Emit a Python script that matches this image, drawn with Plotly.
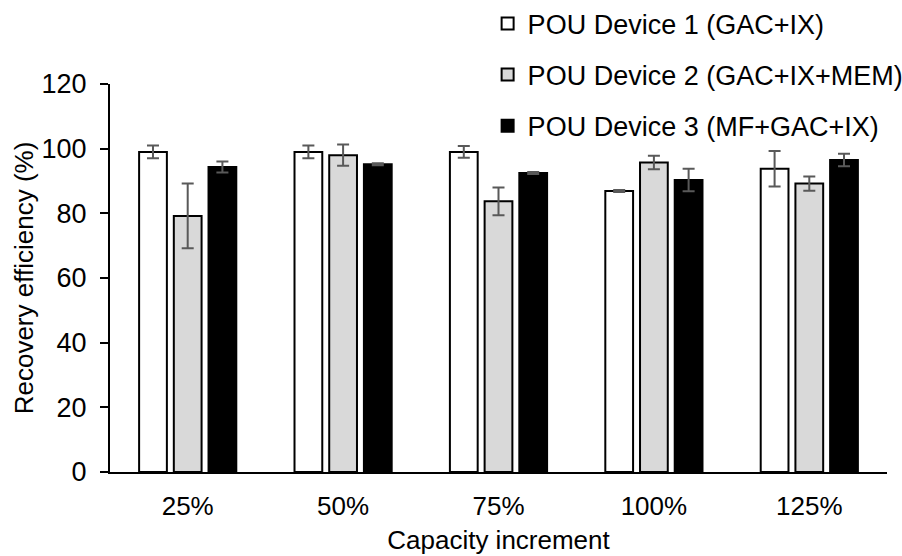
import plotly.graph_objects as go

categories = ["25%", "50%", "75%", "100%", "125%"]

device1 = [99.0, 99.0, 99.0, 86.9, 93.8]
device1_err = [2.0, 2.0, 1.8, 0.3, 5.5]

device2 = [79.2, 98.0, 83.7, 95.7, 89.2]
device2_err = [10.0, 3.3, 4.3, 2.1, 2.2]

device3 = [94.3, 95.2, 92.5, 90.3, 96.5]
device3_err = [1.7, 0.3, 0.3, 3.5, 1.9]

series = [
    ("POU Device 1 (GAC+IX)", device1, device1_err, "#ffffff"),
    ("POU Device 2 (GAC+IX+MEM)", device2, device2_err, "#d9d9d9"),
    ("POU Device 3 (MF+GAC+IX)", device3, device3_err, "#000000"),
]

font_family = "Liberation Sans, Arial, sans-serif"

fig = go.Figure()
for i, (name, vals, errs, color) in enumerate(series):
    fig.add_trace(go.Bar(
        name=name,
        x=categories,
        y=vals,
        legendgroup=f"g{i}",
        marker=dict(color=color, line=dict(color="#000000", width=2)),
        error_y=dict(type="data", array=errs, visible=True,
                     color="#595959", thickness=2, width=6),
    ))

fig.update_layout(
    width=902,
    height=556,
    paper_bgcolor="white",
    plot_bgcolor="white",
    barmode="group",
    bargap=0.33,
    bargroupgap=0.2,
    margin=dict(l=110, r=15, t=84, b=84, autoexpand=False),
    font=dict(family=font_family, size=26, color="#000000"),
    legend=dict(
        x=0.486, y=1.218, xanchor="left", yanchor="top",
        font=dict(size=27, color="#000000"),
        tracegroupgap=13,
        bgcolor="rgba(0,0,0,0)",
    ),
    xaxis=dict(
        title=dict(text="Capacity increment", standoff=11,
                   font=dict(size=26)),
        showline=True, linecolor="#000000", linewidth=2,
        ticks="", showgrid=False,
        tickfont=dict(size=26),
        ticklabelstandoff=10,
    ),
    yaxis=dict(
        title=dict(text="Recovery efficiency (%)", standoff=0,
                   font=dict(size=26)),
        range=[0, 120], dtick=20,
        showline=True, linecolor="#000000", linewidth=2,
        ticks="outside", ticklen=8, tickwidth=2, tickcolor="#000000",
        showgrid=False, zeroline=False,
        tickfont=dict(size=27),
        ticklabelstandoff=8,
    ),
)

fig.write_html("out.html")
